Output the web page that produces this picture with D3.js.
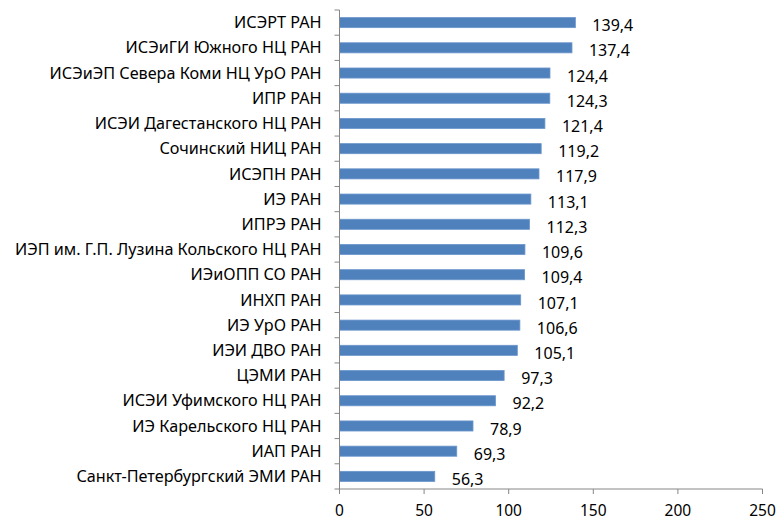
<!DOCTYPE html>
<html>
<head>
<meta charset="utf-8">
<script src="https://cdn.jsdelivr.net/npm/d3@7"></script>
<style>
  body { margin: 0; background: #fff; }
  text { font-family: "Noto Sans", sans-serif; fill: #000; }
</style>
</head>
<body>
<script>
// institutes, top to bottom
const institutes = [
  "ИСЭРТ РАН",
  "ИСЭиГИ Южного НЦ РАН",
  "ИСЭиЭП Севера Коми НЦ УрО РАН",
  "ИПР РАН",
  "ИСЭИ Дагестанского НЦ РАН",
  "Сочинский НИЦ РАН",
  "ИСЭПН РАН",
  "ИЭ РАН",
  "ИПРЭ РАН",
  "ИЭП им. Г.П. Лузина Кольского НЦ РАН",
  "ИЭиОПП СО РАН",
  "ИНХП РАН",
  "ИЭ УрО РАН",
  "ИЭИ ДВО РАН",
  "ЦЭМИ РАН",
  "ИСЭИ Уфимского НЦ РАН",
  "ИЭ Карельского НЦ РАН",
  "ИАП РАН",
  "Санкт-Петербургский ЭМИ РАН"
]
const values = [139.4, 137.4, 124.4, 124.3, 121.4, 119.2, 117.9, 113.1, 112.3,
  109.6, 109.4, 107.1, 106.6, 105.1, 97.3, 92.2, 78.9, 69.3, 56.3]
const xTicks = [0, 50, 100, 150, 200, 250]

const W = 776, H = 521
const plotLeft = 339.5, plotRight = 762.5, plotTop = 10, plotBottom = 489
const catSize = 16.2, numSize = 16, tickSize = 15.5

const svg = d3.select("body").append("svg")
  .attr("width", W)
  .attr("height", H)

const x = d3.scaleLinear().domain([0, 250]).range([plotLeft, plotRight])
const y = d3.scaleBand()
  .domain(institutes)
  .range([plotTop, plotBottom])
  .paddingInner(0.6)
  .paddingOuter(0.3)

const fmt = v => d3.format(".1f")(v).replace(".", ",")
const mid = i => y(institutes[i]) + y.bandwidth() / 2

// bars
svg.selectAll("rect.bar")
  .data(values)
  .enter()
  .append("rect")
  .attr("class", "bar")
  .attr("x", x(0))
  .attr("y", (d, i) => y(institutes[i]))
  .attr("width", d => x(d) - x(0))
  .attr("height", y.bandwidth())
  .attr("fill", "#4f81bd")
  .attr("stroke", "#6b96cc")
  .attr("stroke-width", 0.8)

// value labels, sit a little below the bar centre
svg.selectAll("text.val")
  .data(values)
  .enter()
  .append("text")
  .attr("class", "val")
  .attr("x", d => x(d) + 17)
  .attr("y", (d, i) => mid(i) + 3 + 0.35 * numSize)
  .style("font-size", numSize + "px")
  .text(d => fmt(d))

// category axis: line, ticks between bands, labels
const axisColor = "#868686"
const step = y.step()
svg.append("line")
  .attr("x1", plotLeft).attr("x2", plotLeft)
  .attr("y1", plotTop).attr("y2", plotBottom)
  .attr("stroke", axisColor)
d3.range(institutes.length + 1).forEach(i => {
  svg.append("line")
    .attr("x1", plotLeft - 5).attr("x2", plotLeft)
    .attr("y1", plotTop + i * step).attr("y2", plotTop + i * step)
    .attr("stroke", axisColor)
})
svg.selectAll("text.cat")
  .data(institutes)
  .enter()
  .append("text")
  .attr("class", "cat")
  .attr("x", plotLeft - 18)
  .attr("y", (d, i) => mid(i) + 0.35 * catSize)
  .attr("text-anchor", "end")
  .style("font-size", catSize + "px")
  .text(d => d)

// value axis
svg.append("line")
  .attr("x1", plotLeft).attr("x2", plotRight)
  .attr("y1", plotBottom).attr("y2", plotBottom)
  .attr("stroke", axisColor)
xTicks.forEach(t => {
  svg.append("line")
    .attr("x1", x(t)).attr("x2", x(t))
    .attr("y1", plotBottom).attr("y2", plotBottom + 5)
    .attr("stroke", axisColor)
  svg.append("text")
    .attr("x", x(t))
    .attr("y", 515.5)
    .attr("text-anchor", "middle")
    .style("font-size", tickSize + "px")
    .text(t)
})
</script>
</body>
</html>
